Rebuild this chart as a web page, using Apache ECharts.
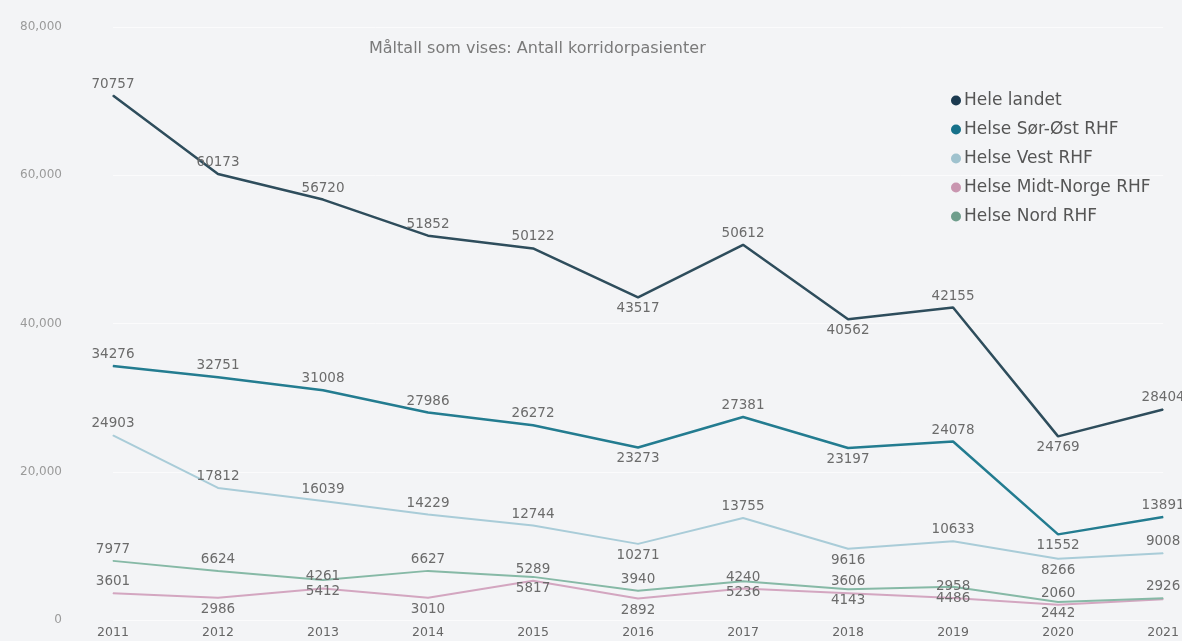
<!DOCTYPE html>
<html>
<head>
<meta charset="utf-8">
<title>Antall korridorpasienter</title>
<script src="https://cdn.jsdelivr.net/npm/echarts@6/dist/echarts.min.js"></script>
<style>
  html, body { margin: 0; padding: 0; background: #F3F4F6; }
  #chart { width: 1182px; height: 641px; }
</style>
</head>
<body>
<div id="chart"></div>
<script>
// Years on the x axis
const years = ['2011', '2012', '2013', '2014', '2015', '2016', '2017', '2018', '2019', '2020', '2021'];

// Number of corridor patients per health region
const heleLandet   = [70757, 60173, 56720, 51852, 50122, 43517, 50612, 40562, 42155, 24769, 28404];
const sorOst       = [34276, 32751, 31008, 27986, 26272, 23273, 27381, 23197, 24078, 11552, 13891];
const vest         = [24903, 17812, 16039, 14229, 12744, 10271, 13755, 9616, 10633, 8266, 9008];
const midtNorge    = [3601, 2986, 4261, 3010, 5289, 2892, 4240, 3606, 2958, 2060, 2800];
const nord         = [7977, 6624, 5412, 6627, 5817, 3940, 5236, 4143, 4486, 2442, 2926];

// Y axis ticks
const yTicks = { min: 0, max: 80000, step: 20000 };

// Where each value label sits relative to its point: t = above, b = below, '' = hidden
const labelSide = {
  hele:  ['t','t','t','t','t','b','t','b','t','b','t'],
  sorOst:['t','t','t','t','t','b','t','b','t','b','t'],
  vest:  ['t','t','t','t','t','b','t','b','t','b','t'],
  midt:  ['t','b','t','b','t','b','t','t','t','t',''],
  nord:  ['t','t','b','t','b','t','b','b','b','b','t']
};

function withLabels(values, sides) {
  return values.map((v, i) => {
    const s = sides[i];
    if (!s) return { value: v, label: { show: false } };
    return { value: v, label: { position: s === 't' ? 'top' : 'bottom' } };
  });
}

const fontFamily = 'DejaVu Sans, sans-serif';

function lineSeries(name, values, sides, color, width) {
  return {
    name: name,
    type: 'line',
    data: withLabels(values, sides),
    symbol: 'circle',
    symbolSize: 1,
    itemStyle: { color: color },
    lineStyle: { color: color, width: width },
    label: {
      show: true,
      color: '#6b6b6b',
      fontSize: 13.5,
      fontFamily: fontFamily,
      distance: 4
    },
    emphasis: { disabled: true },
    animation: false
  };
}

const chart = echarts.init(document.getElementById('chart'));
chart.setOption({
  backgroundColor: '#F3F4F6',
  animation: false,
  title: {
    text: 'Måltall som vises: Antall korridorpasienter',
    left: 364,
    top: 36,
    textStyle: { color: '#7a7a7a', fontSize: 16, fontWeight: 'normal', fontFamily: fontFamily }
  },
  legend: {
    orient: 'vertical',
    left: 946,
    top: 87,
    itemGap: 12,
    itemWidth: 10,
    itemHeight: 10,
    icon: 'circle',
    textStyle: { color: '#555', fontSize: 17, fontFamily: fontFamily, padding: [0, 0, 0, -2] },
    data: [
      { name: 'Hele landet', itemStyle: { color: '#1B3A50' } },
      { name: 'Helse Sør-Øst RHF', itemStyle: { color: '#16718A' } },
      { name: 'Helse Vest RHF', itemStyle: { color: '#9FC2CE' } },
      { name: 'Helse Midt-Norge RHF', itemStyle: { color: '#C996B0' } },
      { name: 'Helse Nord RHF', itemStyle: { color: '#6F9E8C' } }
    ]
  },
  grid: { left: 113, right: 18, top: 27, bottom: 21, containLabel: false },
  xAxis: {
    type: 'category',
    data: years,
    boundaryGap: false,
    axisLine: { show: false },
    axisTick: { show: false },
    axisLabel: { color: '#666', fontSize: 12.5, fontFamily: fontFamily, margin: 6 },
    splitLine: { show: false }
  },
  yAxis: {
    type: 'value',
    min: yTicks.min,
    max: yTicks.max,
    interval: yTicks.step,
    axisLine: { show: false },
    axisTick: { show: false },
    axisLabel: { color: '#9a9a9a', fontSize: 12, fontFamily: fontFamily, margin: 51 },
    splitLine: { lineStyle: { color: '#FBFBFC', width: 1 } }
  },
  series: [
    lineSeries('Hele landet', heleLandet, labelSide.hele, '#2E4D5C', 2.5),
    lineSeries('Helse Sør-Øst RHF', sorOst, labelSide.sorOst, '#237C90', 2.5),
    lineSeries('Helse Vest RHF', vest, labelSide.vest, '#A9CCD8', 2),
    lineSeries('Helse Midt-Norge RHF', midtNorge, labelSide.midt, '#D3A6C0', 2),
    lineSeries('Helse Nord RHF', nord, labelSide.nord, '#86B9A6', 2)
  ]
});
</script>
</body>
</html>
